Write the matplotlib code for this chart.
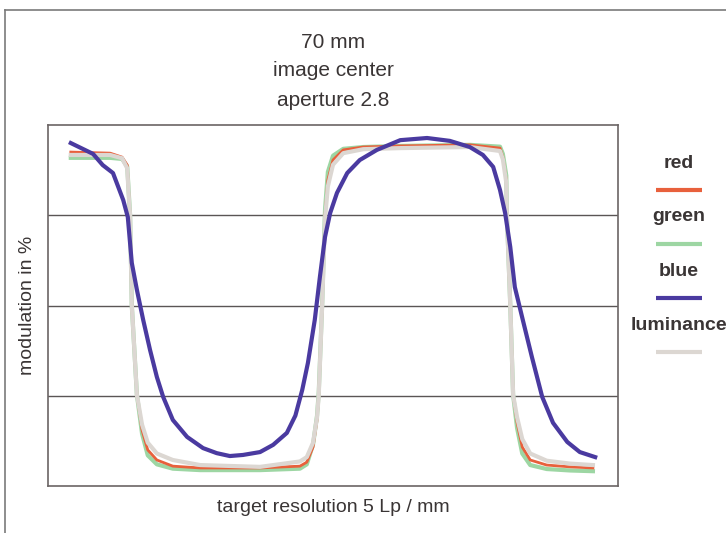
import matplotlib
matplotlib.use("Agg")
import matplotlib.pyplot as plt
from matplotlib.lines import Line2D

plt.rcParams['font.family'] = ['Liberation Sans Narrow', 'Liberation Sans', 'DejaVu Sans']

# target position (0-100 across the chart) and modulation in %
blue_pos = [4.0, 7.9, 9.6, 11.4, 13.2, 14.0, 14.7, 15.6, 16.7, 17.9, 19.1, 20.2, 21.9, 24.4,
            27.2, 29.6, 31.9, 34.2, 37.2, 39.5, 41.9, 43.4, 44.6, 45.6, 46.8, 47.7, 48.6,
            49.5, 50.7, 52.5, 54.7, 57.7, 61.8, 66.5, 70.5, 74.0, 76.3, 78.1, 79.3, 80.2,
            81.1, 81.9, 83.3, 84.9, 86.7, 88.6, 91.1, 93.3, 96.0]
blue_mod = [95.0, 92.0, 88.9, 86.7, 79.2, 74.5, 61.8, 54.3, 46.0, 37.7, 30.2, 24.7, 18.3, 13.6,
            10.5, 9.1, 8.3, 8.6, 9.4, 11.4, 14.7, 19.5, 26.6, 34.1, 46.0, 57.9, 69.0,
            75.6, 81.2, 86.7, 90.3, 93.1, 95.8, 96.4, 95.6, 93.9, 91.7, 88.4, 82.0, 75.6,
            66.2, 55.1, 46.0, 35.7, 24.7, 17.5, 12.2, 9.4, 8.0]

rgl_pos = [4.0, 10.9, 13.0, 13.9, 14.2, 14.4, 14.7, 15.6, 16.5, 17.5, 19.1, 21.9, 26.7, 37.2,
           44.2, 45.4, 46.5, 47.2, 47.5, 48.1, 48.6, 49.1, 50.0, 51.8, 55.3, 61.8, 74.0,
           79.3, 79.8, 80.4, 80.5, 81.1, 81.6, 82.3, 83.2, 84.6, 87.5, 91.6, 95.6]
red_mod = [92.5, 92.2, 91.1, 88.9, 80.1, 75.1, 50.1, 25.2, 15.5, 10.0, 7.2, 5.5, 5.0, 5.0,
           5.5, 6.6, 10.8, 18.3, 25.2, 50.1, 75.1, 84.8, 90.3, 93.1, 93.9, 94.2, 94.5,
           93.6, 91.1, 84.8, 75.1, 50.1, 25.2, 17.5, 10.8, 7.2, 5.8, 5.3, 5.0]
green_mod = [90.9, 90.9, 90.6, 88.5, 80.5, 75.1, 50.1, 25.2, 14.5, 8.5, 6.0, 4.8, 4.4, 4.4,
             4.8, 6.0, 11.5, 19.5, 26.0, 50.5, 76.5, 87.0, 91.5, 93.4, 93.9, 94.2, 94.5,
             94.0, 92.0, 86.0, 75.5, 50.1, 25.2, 16.0, 9.0, 5.8, 4.7, 4.3, 4.1]
lum_mod = [91.7, 91.7, 90.8, 88.0, 79.5, 75.1, 50.1, 25.2, 17.0, 12.0, 9.0, 7.2, 5.8, 5.3,
           6.8, 8.0, 12.0, 19.0, 25.2, 50.1, 74.0, 83.0, 89.0, 92.2, 93.3, 93.6, 93.9,
           92.8, 90.5, 84.0, 75.1, 50.1, 25.2, 19.0, 13.0, 9.0, 7.0, 6.2, 5.8]

title_lines = ["70 mm", "image center", "aperture 2.8"]
legend_names = ["red", "green", "blue", "luminance"]

c_red = "#e8603c"
c_green = "#9dd6a3"
c_blue = "#4a3aa0"
c_lum = "#dcd7d2"
c_text = "#3a3535"

fig = plt.figure(figsize=(7.26, 5.33), dpi=100)
ax = fig.add_axes([48 / 726, 47 / 533, 570 / 726, 361 / 533])

for y in [25, 50, 75]:
    ax.axhline(y, color="#5a5555", lw=1, zorder=1)

ax.plot(rgl_pos, green_mod, color=c_green, lw=3, zorder=2, solid_joinstyle="round")
ax.plot(rgl_pos, red_mod, color=c_red, lw=2, zorder=3, solid_joinstyle="round")
ax.plot(rgl_pos, lum_mod, color=c_lum, lw=3, zorder=4, solid_joinstyle="round")
ax.plot(blue_pos, blue_mod, color=c_blue, lw=3, zorder=5, solid_joinstyle="round")

ax.set_xlim(0, 100)
ax.set_ylim(0, 100)
ax.set_xticks([])
ax.set_yticks([])
for s in ax.spines.values():
    s.set_color("#6b6565")
    s.set_linewidth(1.2)

# outer frame (top and left only)
fig.add_artist(Line2D([5 / 726, 5 / 726], [0, 1 - 10 / 533], color="#7a7a7a", lw=1.2))
fig.add_artist(Line2D([5 / 726, 1], [1 - 10 / 533, 1 - 10 / 533], color="#7a7a7a", lw=1.2))

for i, t in enumerate(title_lines):
    fig.text(333 / 726, 1 - (42 + 29 * i) / 533, t, ha="center", va="center",
             fontsize=15, color=c_text)

fig.text(28 / 726, 1 - 305 / 533, "modulation in %", rotation=90, ha="center", va="center",
         fontsize=14, color=c_text)
fig.text(333 / 726, 1 - 508 / 533, "target resolution 5 Lp / mm", ha="center", va="center",
         fontsize=14, color=c_text)

leg_colors = [c_red, c_green, c_blue, c_lum]
for i, (name, col) in enumerate(zip(legend_names, leg_colors)):
    ty = 163 + 54 * i
    ly = 190 + 54 * i
    fig.text(679 / 726, 1 - ty / 533, name, ha="center", va="center", fontsize=14,
             fontweight="bold", color=c_text)
    fig.add_artist(Line2D([656 / 726, 702 / 726], [1 - ly / 533, 1 - ly / 533],
                          color=col, lw=3, solid_capstyle="butt"))

fig.savefig("out.png", dpi=100)
